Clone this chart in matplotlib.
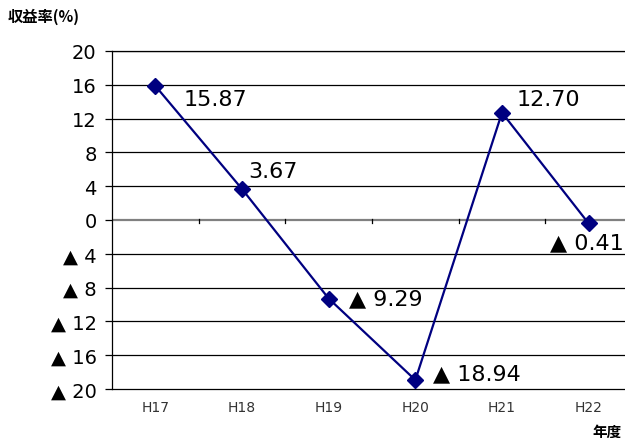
import matplotlib
matplotlib.use("Agg")
import matplotlib.pyplot as plt
import numpy as np

plt.rcParams["font.family"] = ["DejaVu Sans", "Noto Sans CJK JP"]

years = ["H17", "H18", "H19", "H20", "H21", "H22"]
returns = [15.87, 3.67, -9.29, -18.94, 12.70, -0.41]
yticks = [20, 16, 12, 8, 4, 0, -4, -8, -12, -16, -20]

# label offsets in pixels (dx, dy) relative to each point
offsets = [(28, -13), (6, 18), (20, 0), (18, 7), (15, 14), (-39, -19)]


def fmt(v):
    return f"▲ {abs(v):.2f}" if v < 0 else f"{v:.2f}"


def tick_fmt(v):
    return f"▲ {abs(v)}" if v < 0 else f"{v}"


fig = plt.figure(figsize=(6.25, 4.39), dpi=100)
ax = fig.add_axes([112 / 625, 49 / 439, 520 / 625, 338 / 439])

x = np.arange(len(years))
ax.set_xlim(-0.5, len(years) - 0.5)
ax.set_ylim(-20, 20)

# horizontal gridlines
for yv in yticks:
    if yv not in (0, -20):
        ax.axhline(yv, color="black", lw=0.9, zorder=1)
ax.axhline(0, color="#808080", lw=1.6, zorder=1)
# category separator ticks on the zero line
for b in np.arange(0.5, len(years) - 0.5, 1):
    ax.plot([b, b], [-0.4, 0.1], color="black", lw=0.9, zorder=2)

ax.plot(x, returns, color="#000080", lw=1.6, marker="D", markersize=8,
        zorder=3)

for xi, v, (dx, dy) in zip(x, returns, offsets):
    ax.annotate(fmt(v), (xi, v), xytext=(dx, dy), textcoords="offset pixels",
                ha="left", va="center", fontsize=16, color="black")

ax.set_yticks(yticks)
ax.set_yticklabels([tick_fmt(v) for v in yticks], fontsize=14)
ax.tick_params(axis="y", length=5, width=0.9, direction="out", pad=6)
ax.set_xticks(x)
ax.set_xticklabels(years, fontsize=10, color="#333333")
ax.tick_params(axis="x", length=0, pad=8)

ax.spines["right"].set_visible(False)
for side in ["left", "bottom", "top"]:
    ax.spines[side].set_linewidth(0.9)

fig.text(8 / 625, 1 - 17 / 439, "収益率(%)", fontsize=11, fontweight="bold",
         ha="left", va="center", family="Noto Sans CJK JP")
fig.text(622 / 625, 1 - 432 / 439, "年度", fontsize=10.5, fontweight="bold",
         ha="right", va="center", family="Noto Sans CJK JP")

fig.savefig("out.png", dpi=100)
